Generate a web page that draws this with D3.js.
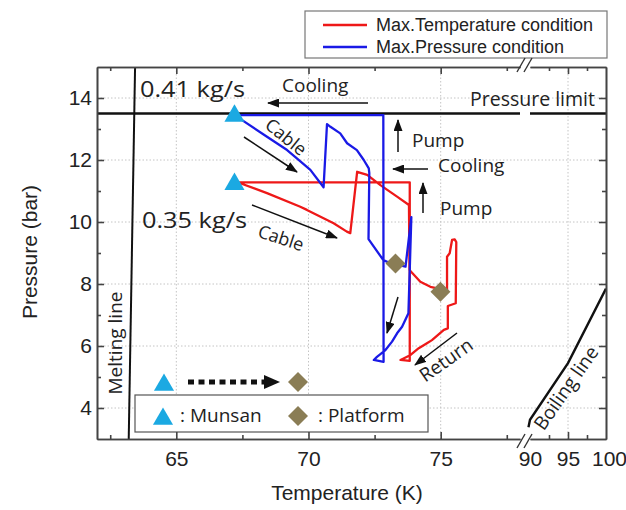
<!DOCTYPE html>
<html>
<head>
<meta charset="utf-8">
<script src="https://cdn.jsdelivr.net/npm/d3@7"></script>
<style>
body { margin: 0; background: #fff; }
.tick text, .axisTitle, .legendText { font-family: "Liberation Sans", Arial, sans-serif; fill: #222; }
.note { font-family: "Open Sans", "Noto Sans", sans-serif; fill: #222; }
</style>
</head>
<body>
<svg id="chart" width="626" height="510"></svg>
<script>
var totalW = 626;
var totalH = 510;

var plotL = 97, plotR = 606, plotT = 67, plotB = 439;
var breakL = 520, breakR = 530;

// ticks
var xMajorLeft = [65, 70, 75];
var xMinorLeft = [62.5, 67.5, 72.5, 77.5];
var xMajorRight = [90, 95, 100];
var xMinorRight = [92.5, 97.5];
var yMajor = [4, 6, 8, 10, 12, 14];
var yMinor = [5, 7, 9, 11, 13];

// reference lines [T (K), P (bar)]
var pressureLimit = 13.5;
var meltingLine = [[63.2, 3], [63.44, 15]];
var boilingLine = [[89.8, 3.38], [90, 3.62], [95, 5.45], [100, 7.85]];

// Max.Pressure condition (blue)
var maxPressure = [
    [67.2, 13.45], [67.29, 13.4], [68.43, 12.75], [69.19, 12.32], [69.56, 12.05], [70.07, 11.68], [70.57, 11.12],
    [70.7, 13.16], [70.83, 13.07], [71.2, 12.86], [71.46, 12.54], [71.83, 12.32], [72.09, 12.0], [72.28, 11.73], [72.3, 11.58],
    [72.27, 9.45], [72.83, 8.77], [73.1, 8.67], [73.67, 8.56],
    [73.89, 10.16], [73.78, 7.06],
    [73.54, 6.62], [73.35, 6.41], [73.16, 6.14], [72.91, 5.87], [72.59, 5.65], [72.47, 5.55], [72.84, 5.49],
    [72.83, 13.45], [67.2, 13.45]
];

// Max.Temperature condition (red)
var maxTemperature = [
    [67.2, 11.28], [67.42, 11.25], [68.43, 10.93], [69.69, 10.49], [69.94, 10.39], [70.95, 9.96], [71.45, 9.69], [71.58, 9.64],
    [71.84, 11.62], [72.22, 11.52], [72.72, 11.19], [73.35, 10.82], [73.8, 10.55],
    [73.82, 8.45], [74.23, 8.07], [74.61, 7.91], [74.87, 7.86], [75.24, 7.75],
    [75.24, 8.88], [75.34, 8.99], [75.43, 9.42], [75.53, 9.44], [75.59, 9.35], [75.57, 7.38], [75.27, 7.29],
    [75.27, 6.57], [75.12, 6.52], [74.67, 6.19], [74.48, 6.09], [74.17, 5.93], [73.86, 5.71], [73.48, 5.55], [73.83, 5.52],
    [73.83, 11.28], [67.2, 11.28]
];

var munsan = [[67.2, 13.42], [67.2, 11.22]];
var platform = [[73.29, 8.66], [74.99, 7.75]];

var xLeft = d3.scaleLinear().domain([62, 78]).range([plotL, breakL]);
var xRight = d3.scaleLinear().domain([90, 100]).range([breakR, plotR]);
var y = d3.scaleLinear().domain([3, 15]).range([plotB, plotT]);

function xPos(t) {
    return t < 84 ? xLeft(t) : xRight(t);
}

var svg = d3.select('#chart');
var line = d3.line().x(function(d) { return xPos(d[0]); }).y(function(d) { return y(d[1]); });

init();

function init() {
    var defs = svg.append('defs');
    defs.append('clipPath').attr('id', 'plotClip')
        .append('rect').attr('x', plotL).attr('y', plotT).attr('width', plotR - plotL).attr('height', plotB - plotT);
    defs.append('marker').attr('id', 'head')
        .attr('markerUnits', 'userSpaceOnUse').attr('markerWidth', 12).attr('markerHeight', 9)
        .attr('refX', 11).attr('refY', 4.5).attr('orient', 'auto')
        .append('path').attr('d', 'M0,0L12,4.5L0,9Z').attr('fill', '#111');

    drawGrid();
    drawLimits();
    drawCurves();
    drawNotes();
    drawLegends();
    drawAxes();
}

function drawGrid() {
    var gGrid = svg.append('g').attr('class', 'grid').attr('stroke', '#c4c4c4').attr('stroke-width', 1).attr('stroke-dasharray', '1.5,2');
    xMajorLeft.forEach(function(t) {
        gGrid.append('line').attr('x1', xLeft(t)).attr('x2', xLeft(t)).attr('y1', plotT).attr('y2', plotB);
    });
    gGrid.append('line').attr('x1', xRight(95)).attr('x2', xRight(95)).attr('y1', plotT).attr('y2', plotB);
    yMajor.forEach(function(p) {
        gGrid.append('line').attr('x1', plotL).attr('x2', plotR).attr('y1', y(p)).attr('y2', y(p));
    });
}

function drawLimits() {
    var gLim = svg.append('g').attr('class', 'limits').attr('stroke', '#111').attr('fill', 'none').attr('clip-path', 'url(#plotClip)');
    gLim.append('path').attr('d', line(meltingLine)).attr('stroke-width', 2);
    gLim.append('path').attr('d', line(boilingLine)).attr('stroke-width', 2.4);
    gLim.append('line').attr('x1', plotL).attr('x2', breakL).attr('y1', y(pressureLimit)).attr('y2', y(pressureLimit)).attr('stroke-width', 2.4);
    gLim.append('line').attr('x1', breakR).attr('x2', plotR).attr('y1', y(pressureLimit)).attr('y2', y(pressureLimit)).attr('stroke-width', 2.4);
}

function drawCurves() {
    var gCurve = svg.append('g').attr('class', 'curves').attr('fill', 'none').attr('stroke-width', 2.3).attr('stroke-linejoin', 'round');
    gCurve.append('path').attr('d', line(maxTemperature)).attr('stroke', '#ee1818');
    gCurve.append('path').attr('d', line(maxPressure)).attr('stroke', '#1a1ae6');

    var gMark = svg.append('g').attr('class', 'markers');
    gMark.selectAll('.munsan').data(munsan).enter().append('path')
        .attr('class', 'munsan')
        .attr('d', d3.symbol().type(d3.symbolTriangle).size(175))
        .attr('transform', function(d) { return 'translate(' + xPos(d[0]) + ',' + y(d[1]) + ')'; })
        .attr('fill', '#1ba9e2');
    gMark.selectAll('.platform').data(platform).enter().append('path')
        .attr('class', 'platform')
        .attr('d', d3.symbol().type(d3.symbolSquare).size(200))
        .attr('transform', function(d) { return 'translate(' + xPos(d[0]) + ',' + y(d[1]) + ') rotate(45)'; })
        .attr('fill', '#8a7d55');
}

function arrow(g, x1, y1, x2, y2) {
    g.append('line').attr('x1', x1).attr('y1', y1).attr('x2', x2).attr('y2', y2)
        .attr('stroke', '#111').attr('stroke-width', 1.5).attr('marker-end', 'url(#head)');
}

function note(g, str, x, yy, size) {
    return g.append('text').attr('class', 'note').attr('x', x).attr('y', yy).style('font-size', size + 'px').text(str);
}

function rotNote(g, str, cx, cy, angle, size) {
    g.append('text').attr('class', 'note')
        .attr('transform', 'translate(' + cx + ',' + cy + ') rotate(' + angle + ')')
        .attr('text-anchor', 'middle').attr('dy', '0.35em')
        .style('font-size', size + 'px').text(str);
}

function drawNotes() {
    var gNote = svg.append('g').attr('class', 'notes');

    note(gNote, '0.41 kg/s', 140, 97, 22).attr('textLength', 105).attr('lengthAdjust', 'spacingAndGlyphs');
    note(gNote, '0.35 kg/s', 142, 228, 22).attr('textLength', 105).attr('lengthAdjust', 'spacingAndGlyphs');
    note(gNote, 'Cooling', 282, 92, 19);
    arrow(gNote, 368, 103, 268, 103);
    note(gNote, 'Pressure limit', 470, 106, 19.5);

    rotNote(gNote, 'Cable', 286, 137, 39, 18);
    arrow(gNote, 244, 137, 297, 172);
    rotNote(gNote, 'Cable', 281, 238, 18, 18);
    arrow(gNote, 252, 205, 337, 238);

    arrow(gNote, 398, 152, 398, 120);
    note(gNote, 'Pump', 412, 147, 19);
    arrow(gNote, 428, 169, 393, 169);
    note(gNote, 'Cooling', 438, 172, 19);
    arrow(gNote, 423, 213, 423, 183);
    note(gNote, 'Pump', 440, 215, 19);

    arrow(gNote, 398, 297, 387, 333);
    arrow(gNote, 457, 333, 415, 365);
    rotNote(gNote, 'Return', 446, 360, -35, 19);

    rotNote(gNote, 'Boiling line', 566, 388, -55, 19);
    rotNote(gNote, 'Melting line', 115, 343, -90, 19);
}

function drawLegends() {
    // series legend
    var gLeg = svg.append('g').attr('class', 'legend');
    gLeg.append('rect').attr('x', 305).attr('y', 11).attr('width', 302).attr('height', 47)
        .attr('fill', '#fff').attr('stroke', '#777').attr('stroke-width', 1.2);
    var series = [['Max.Temperature condition', '#ee1818', 25], ['Max.Pressure condition', '#1a1ae6', 47]];
    series.forEach(function(s) {
        gLeg.append('line').attr('x1', 323).attr('x2', 367).attr('y1', s[2]).attr('y2', s[2])
            .attr('stroke', s[1]).attr('stroke-width', 2.3);
        gLeg.append('text').attr('class', 'legendText').attr('x', 376).attr('y', s[2] + 6)
            .style('font-size', '18px').text(s[0]);
    });

    // symbol legend
    var gSym = svg.append('g').attr('class', 'symLegend');
    gSym.append('rect').attr('x', 135).attr('y', 395).attr('width', 293).attr('height', 37)
        .attr('fill', '#fff').attr('stroke', '#555').attr('stroke-width', 1.2);
    var tri = d3.symbol().type(d3.symbolTriangle).size(175);
    var dia = d3.symbol().type(d3.symbolSquare).size(200);
    gSym.append('path').attr('d', tri).attr('transform', 'translate(164,385)').attr('fill', '#1ba9e2');
    gSym.append('path').attr('d', dia).attr('transform', 'translate(298,382) rotate(45)').attr('fill', '#8a7d55');
    gSym.append('line').attr('x1', 188).attr('x2', 264).attr('y1', 382).attr('y2', 382)
        .attr('stroke', '#111').attr('stroke-width', 5).attr('stroke-dasharray', '6,4.5');
    gSym.append('path').attr('d', 'M264,375L280,382L264,389Z').attr('fill', '#111');

    gSym.append('path').attr('d', tri).attr('transform', 'translate(163,419)').attr('fill', '#1ba9e2');
    note(gSym, ': Munsan', 180, 422, 19);
    gSym.append('path').attr('d', dia).attr('transform', 'translate(298,416) rotate(45)').attr('fill', '#8a7d55');
    note(gSym, ': Platform', 318, 422, 19);
}

function addAxis(g, axis, tr, noLabel) {
    var a = g.append('g').attr('transform', tr).call(axis);
    a.selectAll('.domain, .tick line').attr('stroke', '#444').attr('stroke-width', 1.6);
    a.selectAll('text').style('font-size', '21px').attr('fill', '#222');
    if (noLabel) a.selectAll('text').remove();
    return a;
}

function drawAxes() {
    var gAxis = svg.append('g').attr('class', 'axes');
    var fmt = d3.format('d');

    // bottom
    addAxis(gAxis, d3.axisBottom(xLeft).tickValues(xMajorLeft).tickSize(-7).tickSizeOuter(0).tickPadding(12).tickFormat(fmt), 'translate(0,' + plotB + ')');
    addAxis(gAxis, d3.axisBottom(xLeft).tickValues(xMinorLeft).tickSize(-4).tickSizeOuter(0), 'translate(0,' + plotB + ')', true);
    var bR = addAxis(gAxis, d3.axisBottom(xRight).tickValues(xMajorRight).tickSize(-7).tickSizeOuter(0).tickPadding(12).tickFormat(fmt), 'translate(0,' + plotB + ')');
    bR.selectAll('.tick').filter(function(d) { return d === 90 || d === 100; }).select('line').remove();
    bR.selectAll('.tick').filter(function(d) { return d === 100; }).select('text').attr('x', 3);
    addAxis(gAxis, d3.axisBottom(xRight).tickValues(xMinorRight).tickSize(-4).tickSizeOuter(0), 'translate(0,' + plotB + ')', true);

    // top
    addAxis(gAxis, d3.axisTop(xLeft).tickValues(xMajorLeft).tickSize(-7).tickSizeOuter(0), 'translate(0,' + plotT + ')', true);
    addAxis(gAxis, d3.axisTop(xLeft).tickValues(xMinorLeft).tickSize(-4).tickSizeOuter(0), 'translate(0,' + plotT + ')', true);
    var tR = addAxis(gAxis, d3.axisTop(xRight).tickValues([95]).tickSize(-7).tickSizeOuter(0), 'translate(0,' + plotT + ')', true);
    addAxis(gAxis, d3.axisTop(xRight).tickValues(xMinorRight).tickSize(-4).tickSizeOuter(0), 'translate(0,' + plotT + ')', true);

    // left / right
    addAxis(gAxis, d3.axisLeft(y).tickValues(yMajor).tickSize(-7).tickSizeOuter(0).tickPadding(5).tickFormat(fmt), 'translate(' + plotL + ',0)');
    addAxis(gAxis, d3.axisLeft(y).tickValues(yMinor).tickSize(-4).tickSizeOuter(0), 'translate(' + plotL + ',0)', true);
    addAxis(gAxis, d3.axisRight(y).tickValues(yMajor).tickSize(-7).tickSizeOuter(0), 'translate(' + plotR + ',0)', true);
    addAxis(gAxis, d3.axisRight(y).tickValues(yMinor).tickSize(-4).tickSizeOuter(0), 'translate(' + plotR + ',0)', true);

    // axis break marks
    var gBreak = gAxis.append('g').attr('class', 'break').attr('stroke', '#333').attr('stroke-width', 1.4);
    [plotT - 2, plotB + 2].forEach(function(yy) {
        [521, 528].forEach(function(xx) {
            gBreak.append('line').attr('x1', xx - 4).attr('y1', yy + 7).attr('x2', xx + 4).attr('y2', yy - 7);
        });
    });

    gAxis.append('text').attr('class', 'axisTitle').attr('x', 347).attr('y', 500)
        .attr('text-anchor', 'middle').style('font-size', '21px').text('Temperature (K)');
    gAxis.append('text').attr('class', 'axisTitle')
        .attr('transform', 'translate(37,252) rotate(-90)')
        .attr('text-anchor', 'middle').style('font-size', '21px').text('Pressure (bar)');
}
</script>
</body>
</html>
